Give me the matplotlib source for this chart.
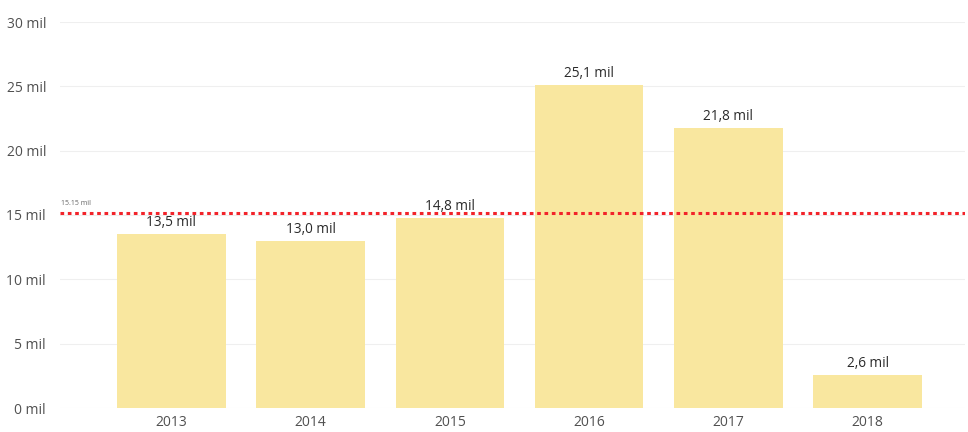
import matplotlib.pyplot as plt

# data
years = ["2013", "2014", "2015", "2016", "2017", "2018"]
values = [13.5, 13.0, 14.8, 25.1, 21.8, 2.6]
avg_value = 15.15
y_ticks = [0, 5, 10, 15, 20, 25, 30]

plt.rcParams['font.family'] = ['Open Sans', 'DejaVu Sans']

fig = plt.figure(figsize=(9.68, 4.32), dpi=100)
ax = fig.add_axes([60 / 968, 1 - 408 / 432, 905 / 968, 386 / 432])

x = list(range(len(years)))
bars = ax.bar(x, values, width=0.78, color='#F9E79F', zorder=2)

# bar labels, comma decimals
for xi, v in zip(x, values):
    ax.text(xi, v + 0.3, f"{v:.1f}".replace('.', ',') + " mil",
            ha='center', va='bottom', fontsize=9.8, color='#2a2a2a', zorder=4)

# average line
ax.axhline(avg_value, color='#F2232A', linestyle=(0, (1.2, 1.2)), linewidth=2.2, zorder=3)
ax.text(-0.79, avg_value + 0.45, "15.15 mil", fontsize=5, color='#666666',
        ha='left', va='bottom')

ax.set_xlim(-0.8, 5.7)
ax.set_ylim(0, 30)
ax.set_yticks(y_ticks)
ax.set_yticklabels([f"{t} mil" for t in y_ticks])
ax.set_xticks(x)
ax.set_xticklabels(years)

ax.grid(axis='y', color='#EFEFEF', linewidth=0.8, zorder=0)
ax.tick_params(axis='both', length=0, labelsize=10, colors='#505050')
ax.tick_params(axis='y', pad=10)
ax.tick_params(axis='x', pad=5)
for s in ax.spines.values():
    s.set_visible(False)

fig.savefig('out.png', dpi=100)
